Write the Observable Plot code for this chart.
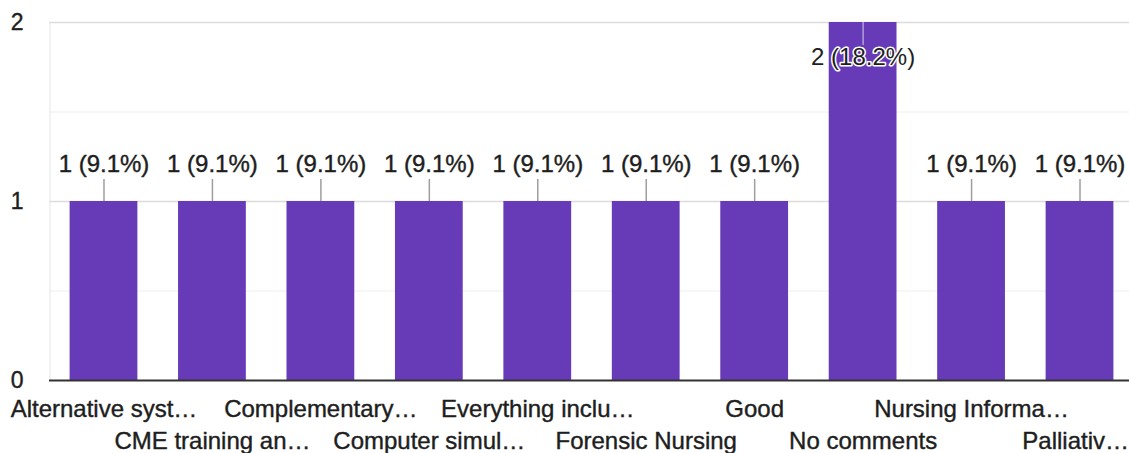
<!DOCTYPE html>
<html>
<head>
<meta charset="utf-8">
<script src="https://cdn.jsdelivr.net/npm/d3@7"></script>
<script src="https://cdn.jsdelivr.net/npm/@observablehq/plot@0.6"></script>
<style>
  html, body { margin: 0; padding: 0; background: #fff; overflow: hidden; }
  #chart svg { display: block; max-width: none !important; }
</style>
</head>
<body>
<div id="chart"></div>
<script>
const categories = [
  "Alternative syst…", "CME training an…", "Complementary…", "Computer simul…",
  "Everything inclu…", "Forensic Nursing", "Good", "No comments",
  "Nursing Informa…", "Palliativ…"
];
const counts = [1, 1, 1, 1, 1, 1, 1, 2, 1, 1];
const percents = ["9.1%", "9.1%", "9.1%", "9.1%", "9.1%", "9.1%", "9.1%", "18.2%", "9.1%", "9.1%"];
const yTicks = [0, 1, 2];
const yMinorTicks = [0.5, 1.5];

const data = categories.map((c, i) => ({
  cat: c, v: counts[i], label: `${counts[i]} (${percents[i]})`, row: i % 2, last: i === categories.length - 1
}));
const maxV = d3.max(counts);
const above = data.filter(d => d.v < maxV);
const below = data.filter(d => d.v === maxV);
const font = "Liberation Sans, Arial, sans-serif";
const ink = "#1e1e1e";
const fs = 24;

const chart = Plot.plot({
  width: 1134,
  height: 453,
  marginLeft: 49,
  marginRight: 0,
  marginTop: 22,
  marginBottom: 73,
  style: { fontFamily: font, background: "#fff", color: ink },
  x: { domain: categories, paddingInner: 0.375, paddingOuter: 0.19, round: false, axis: null },
  y: { domain: [0, 2], ticks: yTicks, tickSize: 0, tickPadding: 26, tickFormat: d3.format("d"), label: null },
  marks: [
    Plot.ruleY(yMinorTicks, { stroke: "#eeeeee", strokeWidth: 1 }),
    Plot.ruleY(yTicks.filter(t => t > 0), { stroke: "#dcdcdc", strokeWidth: 1.5 }),
    Plot.ruleX([categories[0]], { x: () => categories[0], stroke: "#e6e6e6", dx: -54, y1: 0, y2: 2 }),
    Plot.barY(data, { x: "cat", y: "v", fill: "#673ab7" }),
    Plot.ruleY([0], { stroke: "#333", strokeWidth: 2 }),
    Plot.ruleX(above, { x: "cat", y1: "v", y2: d => d.v + 0.123, stroke: "#9e9e9e", strokeWidth: 1.5 }),
    Plot.ruleX(below, { x: "cat", y1: "v", y2: d => d.v - 0.128, stroke: "#b0a0d8", strokeWidth: 1.5 }),
    Plot.text(above, { x: "cat", y: "v", text: "label", dy: -37, fontSize: fs, fill: ink, stroke: ink, strokeWidth: 0.4 }),
    Plot.text(below, { x: "cat", y: "v", text: "label", dy: 35, fontSize: fs, fill: ink, stroke: "#fff", strokeWidth: 3 }),
    Plot.text(data.filter(d => d.row === 0), { x: "cat", y: () => 0, text: "cat", dy: 29, fontSize: fs, fill: ink, stroke: ink, strokeWidth: 0.4 }),
    Plot.text(data.filter(d => d.row === 1 && !d.last), { x: "cat", y: () => 0, text: "cat", dy: 61, fontSize: fs, fill: ink, stroke: ink, strokeWidth: 0.4 }),
    Plot.text(data.filter(d => d.last), { x: "cat", y: () => 0, text: "cat", dy: 61, dx: 49, textAnchor: "end", fontSize: fs, fill: ink, stroke: ink, strokeWidth: 0.4 })
  ]
});
const yAxis = chart.querySelector("g[aria-label='y-axis tick label']") || chart.querySelector("g[aria-label='y-axis']");
if (yAxis) {
  yAxis.setAttribute("font-size", "23");
  yAxis.setAttribute("fill", ink);
  yAxis.setAttribute("stroke", ink);
  yAxis.setAttribute("stroke-width", "0.4");
  yAxis.querySelectorAll("text").forEach(t => { t.style.fontSize = "23px"; });
}
document.getElementById("chart").appendChild(chart);
</script>
</body>
</html>
